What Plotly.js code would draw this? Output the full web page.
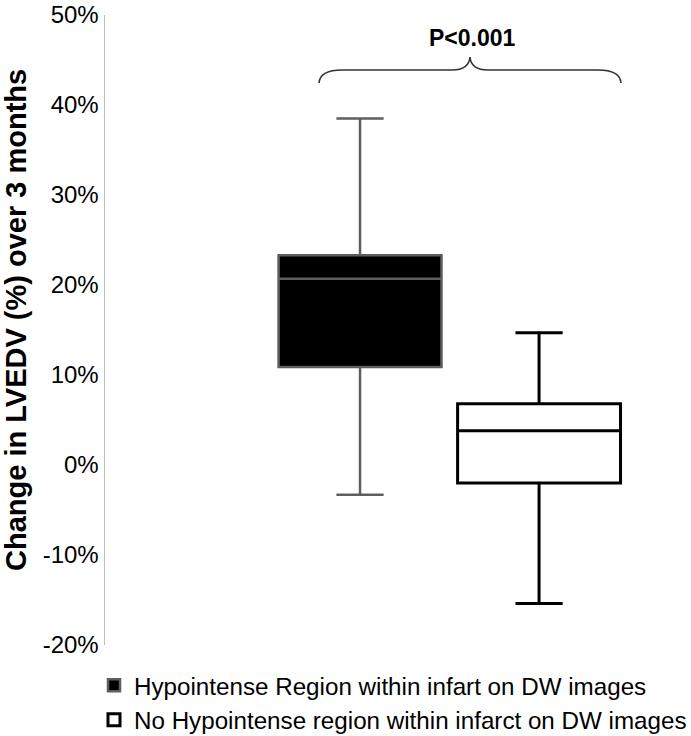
<!DOCTYPE html>
<html>
<head>
<meta charset="utf-8">
<script src="https://cdn.plot.ly/plotly-3.0.1.min.js"></script>
<style>
  html, body { margin: 0; padding: 0; background: #fff; }
  #chart { width: 691px; height: 736px; }
</style>
</head>
<body>
<div id="chart"></div>
<script>
// ---- data ----
const groups = [
  "Hypointense Region within infart on DW images",
  "No Hypointense region within infarct on DW images"
];
const categories = ["Hypointense", "No Hypointense"];
const lowerFence = [-3.3, -15.4];
const q1Values   = [10.9, -2.0];
const medians    = [20.7, 3.8];
const q3Values   = [23.3, 6.8];
const upperFence = [38.5, 14.7];
const yTickValues = [-20, -10, 0, 10, 20, 30, 40, 50];
const yTickLabels = ["-20%", "-10%", "0%", "10%", "20%", "30%", "40%", "50%"];
const pValueText = "P<0.001";
const yTitleText = "Change in LVEDV (%) over 3 months";

// ---- styling ----
const FONT = "Liberation Sans, Arial, Helvetica, sans-serif";
const fills = ["#000000", "#ffffff"];
const lines = ["#5e5e5e", "#000000"];
const lineWidths = [2.5, 3];

const W = 691, H = 736;
const ML = 105, MR = 20, MT = 15, MB = 91;
const PW = W - ML - MR, PH = H - MT - MB;
// pixel -> paper helpers (for decorations only)
const px = x => (x - ML) / PW;
const py = y => (H - MB - y) / PH;

const traces = categories.map((c, i) => ({
  type: "box",
  name: groups[i],
  x: [c],
  lowerfence: [lowerFence[i]],
  q1: [q1Values[i]],
  median: [medians[i]],
  q3: [q3Values[i]],
  upperfence: [upperFence[i]],
  boxpoints: false,
  width: 0.91,
  whiskerwidth: 0.29,
  fillcolor: fills[i],
  line: { color: lines[i], width: lineWidths[i] },
  hoverinfo: "skip"
}));

const P = (x, y) => px(x).toFixed(5) + "," + py(y).toFixed(5);
const bracePath =
  "M" + P(319, 83) +
  " Q" + P(320, 70) + " " + P(342, 70) +
  " L" + P(452, 70) +
  " Q" + P(469, 70) + " " + P(470, 57) +
  " Q" + P(471, 70) + " " + P(488, 70) +
  " L" + P(598, 70) +
  " Q" + P(620, 70) + " " + P(621, 83);

const layout = {
  width: W, height: H,
  margin: { l: ML, r: MR, t: MT, b: MB, pad: 0, autoexpand: false },
  paper_bgcolor: "#ffffff",
  plot_bgcolor: "#ffffff",
  font: { family: FONT, color: "#000000", size: 24 },
  showlegend: true,
  legend: {
    orientation: "v",
    x: px(94), xanchor: "left",
    y: py(663), yanchor: "top",
    font: { family: FONT, size: 24.2, color: "#000000" },
    bgcolor: "rgba(0,0,0,0)",
    borderwidth: 0,
    traceorder: "normal"
  },
  xaxis: {
    type: "category",
    categoryorder: "array",
    categoryarray: categories,
    range: [-1.4246, 1.737],
    showticklabels: false,
    showline: false,
    showgrid: false,
    zeroline: false,
    ticks: "",
    fixedrange: true
  },
  yaxis: {
    range: [-20, 50],
    tickvals: yTickValues,
    ticktext: yTickLabels,
    ticks: "",
    showgrid: false,
    zeroline: false,
    showline: true,
    linecolor: "#bdbdbd",
    linewidth: 1.5,
    tickfont: { family: FONT, size: 24, color: "#000000" },
    fixedrange: true
  },
  shapes: [{
    type: "path", xref: "paper", yref: "paper",
    path: bracePath,
    line: { color: "#333333", width: 1.6 }
  }],
  annotations: [
    {
      xref: "paper", yref: "paper",
      x: px(472), y: py(38),
      xanchor: "center", yanchor: "middle",
      text: "<b>" + pValueText + "</b>",
      showarrow: false,
      font: { family: FONT, size: 23, color: "#000000" }
    },
    {
      xref: "paper", yref: "paper",
      x: px(16), y: py(320),
      xanchor: "center", yanchor: "middle",
      textangle: -90,
      text: "<b>" + yTitleText + "</b>",
      showarrow: false,
      font: { family: FONT, size: 29, color: "#000000" }
    }
  ]
};

Plotly.newPlot("chart", traces, layout, { displayModeBar: false, staticPlot: true });
</script>
</body>
</html>
